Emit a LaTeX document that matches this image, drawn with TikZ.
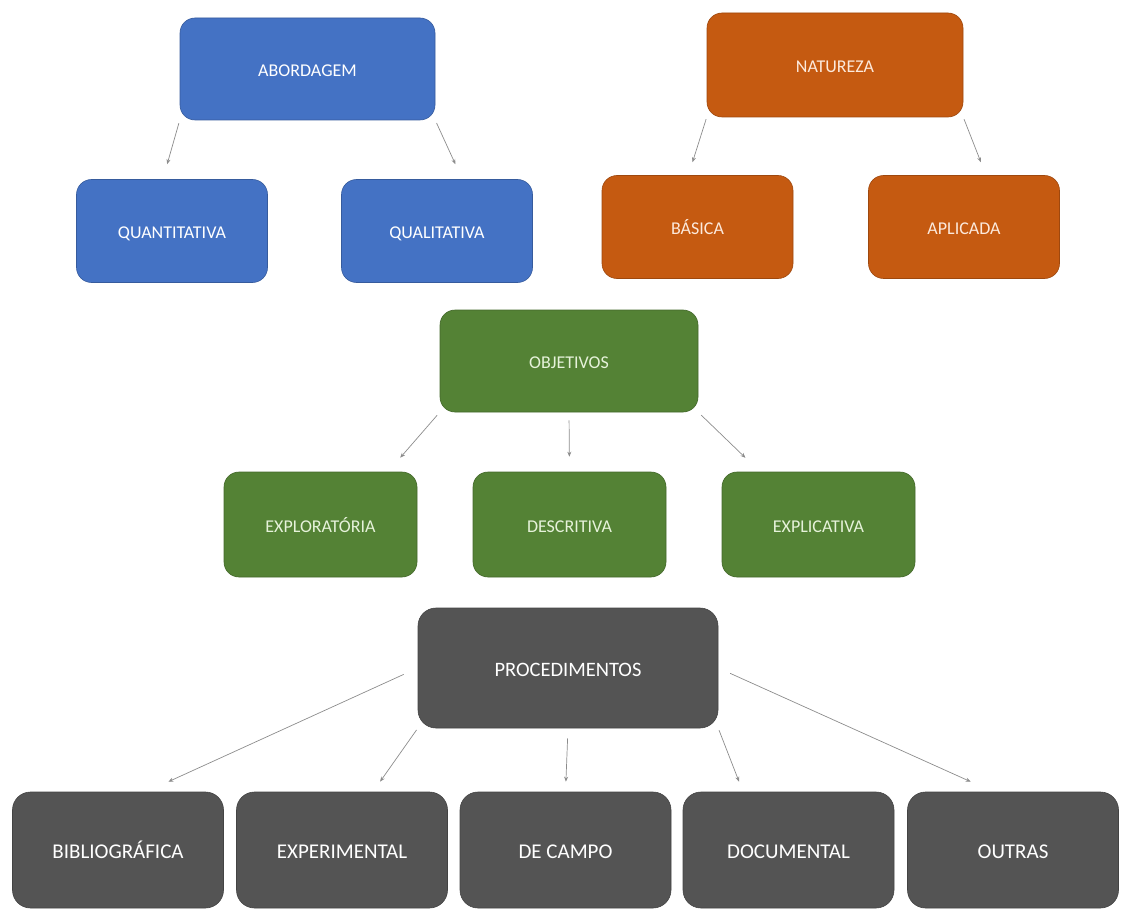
\documentclass[tikz,border=0pt]{standalone}
\usepackage{fontspec}
\setmainfont{Carlito}
\usetikzlibrary{arrows.meta}
\definecolor{abBlue}{HTML}{4472C4}
\definecolor{natOrange}{HTML}{C55A11}
\definecolor{objGreen}{HTML}{548235}
\definecolor{procGray}{HTML}{545454}
\definecolor{linkGray}{HTML}{8C8C8C}
\definecolor{peach}{HTML}{FCE9DC}
\definecolor{paleGreen}{HTML}{E6F2DA}

\begin{document}
\begin{tikzpicture}[x=1pt, y=-1pt, node distance=162pt]
    \tikzstyle{card} = [rectangle, draw, rounded corners=15pt, minimum width=191pt, minimum height=103pt,
                                      text centered, inner sep=0pt, line width=0.6pt, text height=15.5pt, text depth=0pt,
                                      font=\fontsize{18}{20}\selectfont]
    \tikzstyle{bluecard} = [card, fill=abBlue, draw=abBlue!80!black, text=white]
    \tikzstyle{orangecard} = [card, fill=natOrange, draw=natOrange!80!black, text=peach]
    \tikzstyle{greencard} = [card, fill=objGreen, draw=objGreen!80!black, text=paleGreen,
                                      minimum width=193pt, minimum height=105pt]
    \tikzstyle{graycard} = [card, fill=procGray, draw=procGray!80!black, text=white, rounded corners=18pt,
                                      minimum width=211pt, minimum height=116pt, text height=17.5pt,
                                      font=\fontsize{21}{24}\selectfont]
    \tikzstyle{link} = [-{Stealth[length=5pt, width=4pt]}, line width=0.7pt, draw=linkGray]
  \useasboundingbox (0,0) rectangle (1121,909);
  % abordagem
  \node[bluecard, minimum width=255pt, minimum height=102pt](abord) at (307.5,69){ABORDAGEM};
  \node[bluecard, below of=abord, xshift=-135.5pt](quant){QUANTITATIVA};
  \node[bluecard, below of=abord, xshift=129.5pt](qual){QUALITATIVA};
  % natureza
  \node[orangecard, minimum width=256pt, minimum height=104pt](natur) at (835,65){NATUREZA};
  \node[orangecard, below of=natur, xshift=-137.5pt](basica){BÁSICA};
  \node[orangecard, below of=natur, xshift=129pt](aplic){APLICADA};
  % objetivos
  \node[greencard, minimum width=258pt, minimum height=102pt](objet) at (569,361){OBJETIVOS};
  \node[greencard, below of=objet, xshift=-248.5pt, yshift=-1.5pt](explor){EXPLORATÓRIA};
  \node[greencard, below of=objet, xshift=0.5pt, yshift=-1.5pt](descr){DESCRITIVA};
  \node[greencard, below of=objet, xshift=249.5pt, yshift=-1.5pt](expli){EXPLICATIVA};
  % procedimentos
  \node[graycard, minimum width=300pt, minimum height=120pt, font=\fontsize{20.5}{24}\selectfont](proced) at (568,668){PROCEDIMENTOS};
  \node[graycard, below of=proced, xshift=-450pt, yshift=-20pt](biblio){BIBLIOGRÁFICA};
  \node[graycard, below of=proced, xshift=-226pt, yshift=-20pt](exper){EXPERIMENTAL};
  \node[graycard, below of=proced, xshift=-2.5pt, yshift=-20pt](campo){DE CAMPO};
  \node[graycard, below of=proced, xshift=220.5pt, yshift=-20pt](docum){DOCUMENTAL};
  \node[graycard, below of=proced, xshift=445pt, yshift=-20pt](outras){OUTRAS};
  % arrows
  \draw[link, shorten <=3pt, shorten >=15.6pt] (abord.south west) -- (quant.100);
  \draw[link, shorten <=3pt, shorten >=16.5pt] (abord.south east) -- (qual.64);
  \draw[link, shorten <=2pt, shorten >=13.6pt] (natur.south west) -- (basica.100);
  \draw[link, shorten <=2pt, shorten >=13.9pt] (natur.south east) -- (aplic.67);
  \draw[link, shorten <=4pt, shorten >=18.5pt] (objet.south west) -- (explor.38);
  \draw[link, shorten <=8pt, shorten >=15pt] (objet.south) -- (descr.north);
  \draw[link, shorten <=4pt, shorten >=20pt] (objet.south east) -- (expli.138);
  \draw[link, shorten <=15.4pt, shorten >=24.1pt] (proced.west) -- (biblio.64);
  \draw[link, shorten <=2pt, shorten >=12.3pt] (proced.south west) -- (exper.62);
  \draw[link, shorten <=10pt, shorten >=10pt] (proced.south) -- (campo.north);
  \draw[link, shorten <=2pt, shorten >=10.8pt] (proced.south east) -- (docum.128);
  \draw[link, shorten <=13pt, shorten >=24.4pt] (proced.east) -- (outras.109);
\end{tikzpicture}
\end{document}
